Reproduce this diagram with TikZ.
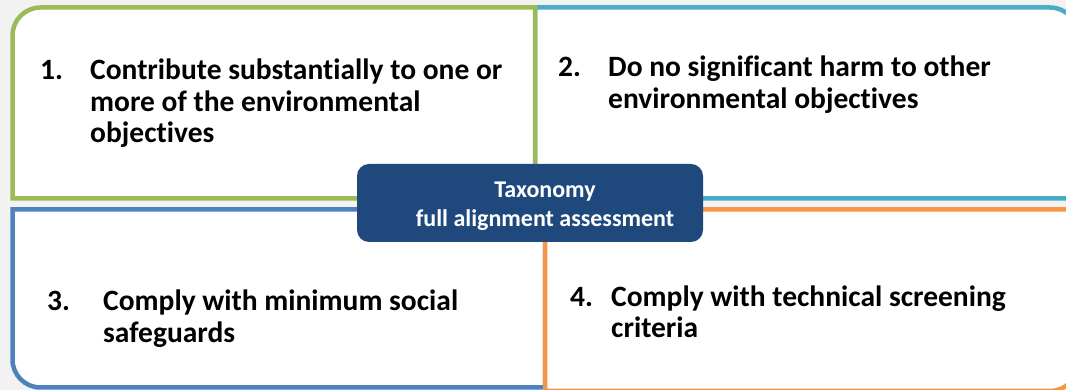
\documentclass[tikz,border=0pt]{standalone}
\usepackage{fontspec}
\setmainfont{Carlito}[Ligatures=NoCommon]
\usepackage{tikz}
\usetikzlibrary{positioning}
\definecolor{qgreen}{RGB}{155,187,89}
\definecolor{qteal}{RGB}{75,172,198}
\definecolor{qblue}{RGB}{79,129,189}
\definecolor{qorange}{RGB}{247,150,70}
\definecolor{taxoblue}{RGB}{31,73,125}
\definecolor{bggray}{RGB}{242,242,242}

\begin{document}
\begin{tikzpicture}[x=1pt,y=1pt,
    quad/.style={line width=4.5pt,fill=white},
    numlbl/.style={anchor=base west,inner sep=0pt,font=\fontsize{29.5}{31.5}\selectfont\bfseries},
    itemtxt/.style={numlbl,align=left},
    taxobox/.style={fill=taxoblue,rounded corners=12pt,minimum width=346pt,minimum height=78pt,
      inner sep=0pt,text=white,font=\fontsize{24}{29}\selectfont\bfseries}]
    \useasboundingbox (0,0) rectangle (1066,390);
    \fill[bggray] (0,0) rectangle (1066,390);
    \clip (0,0) rectangle (1066,390);
    % four quadrants, one rounded outer corner each
    \draw[quad,draw=qteal,rounded corners=28pt] (800,382.5) -- (1078,382.5) -- (1078,290) [sharp corners] -- (1078,191.5) -- (535,191.5) -- (535,382.5) -- cycle;
    \draw[quad,draw=qgreen,rounded corners=28pt] (12.5,290) -- (12.5,382.5) -- (270,382.5) [sharp corners] -- (535,382.5) -- (535,191.5) -- (12.5,191.5) -- cycle;
    \draw[quad,draw=qblue,rounded corners=28pt] (270,2.5) -- (12.5,2.5) -- (12.5,90) [sharp corners] -- (12.5,180.5) -- (545,180.5) -- (545,2.5) -- cycle;
    \draw[quad,draw=qorange,rounded corners=28pt] (1078,90) -- (1078,-1) -- (800,-1) [sharp corners] -- (545,-1) -- (545,180.5) -- (1078,180.5) -- cycle;
    % criteria (text nodes sit on their last line)
    \node[numlbl] (num1) at (40,310) {1.};
    \node[itemtxt] (txt1) at (90,247) {Contribute substantially to one or\\more of the environmental\\objectives};
    \node[numlbl] (num2) at (558,313) {2.};
    \node[itemtxt] (txt2) at (608,281.5) {Do no significant harm to other\\environmental objectives};
    \node[numlbl] (num3) at (47,79) {3.};
    \node[itemtxt] (txt3) at (103,47.5) {Comply with minimum social\\safeguards};
    \node[numlbl] (num4) at (570,83.5) {4.};
    \node[itemtxt] (txt4) at (611,52) {Comply with technical screening\\criteria};
    % centre label
    \node[taxobox] (taxo) at (530,187) {\hspace*{30pt}\begin{tabular}{@{}c@{}}\rule{0pt}{26.3pt}Taxonomy\\full alignment assessment\end{tabular}};
\end{tikzpicture}
\end{document}
